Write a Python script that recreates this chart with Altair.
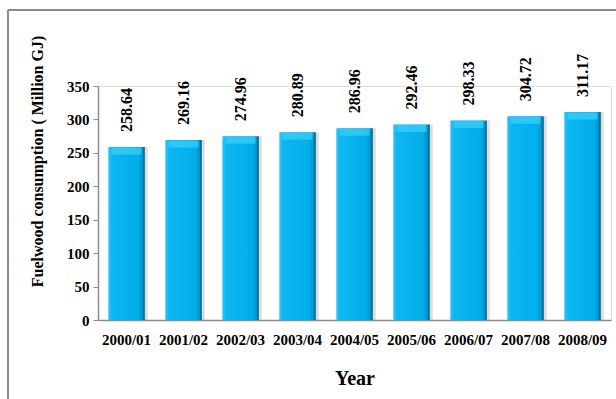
import altair as alt
import pandas as pd

# Fuelwood consumption by fiscal year (million GJ)
years = ["2000/01", "2001/02", "2002/03", "2003/04", "2004/05",
         "2005/06", "2006/07", "2007/08", "2008/09"]
consumption = [258.64, 269.16, 274.96, 280.89, 286.96, 292.46, 298.33, 304.72, 311.17]
y_ticks = [0, 50, 100, 150, 200, 250, 300, 350]

df = pd.DataFrame({"year": years, "value": consumption})
df["label"] = [f"{v:.2f}" for v in consumption]

FONT = "Liberation Serif"
GREY = "#8c8c8c"

x_enc = alt.X(
    "year:N",
    sort=years,
    scale=alt.Scale(paddingInner=0.36, paddingOuter=0.18),
    axis=alt.Axis(
        title="Year",
        labelAngle=0,
        ticks=False,
        labelPadding=12,
        labelFont=FONT, labelFontWeight="bold", labelFontSize=15, labelColor="black",
        titleFont=FONT, titleFontWeight="bold", titleFontSize=20, titleColor="black",
        titleY=64, titleBaseline="alphabetic",
        domainColor=GREY, domainWidth=1.5,
    ),
)
y_enc = alt.Y(
    "value:Q",
    scale=alt.Scale(domain=[0, 350], nice=False),
    axis=alt.Axis(
        values=y_ticks,
        grid=False,
        title="Fuelwood consumption ( Million GJ)",
        labelFont=FONT, labelFontWeight="bold", labelFontSize=15, labelColor="black",
        labelPadding=4,
        tickSize=5, tickColor=GREY, domainColor=GREY, domainWidth=1.5,
        titleFont=FONT, titleFontWeight="bold", titleFontSize=16, titleColor="black",
        titleAngle=270, titleX=-56, titleY=75, titleAlign="center",
        titleBaseline="alphabetic",
    ),
)

# outer frame: top and left edges of the figure border, kept inside the canvas
frame_top = alt.Chart(df).mark_rule(
    color="#8a8a8a", strokeWidth=2, clip=False
).encode(x=alt.value(-90), x2=alt.value(518), y=alt.value(-76))
frame_left = alt.Chart(df).mark_rule(
    color="#8a8a8a", strokeWidth=2, clip=False
).encode(x=alt.value(-90), y=alt.value(-76), y2=alt.value(313))

# soft drop shadow behind each bar
shadow = alt.Chart(df).mark_bar(
    color="#8a8a8a", opacity=0.3, xOffset=3
).encode(x=x_enc, y=y_enc)

bars = alt.Chart(df).mark_bar(
    color=alt.Gradient(
        gradient="linear", x1=0, x2=1, y1=0, y2=0,
        stops=[
            alt.GradientStop(offset=0, color="#36c8f6"),
            alt.GradientStop(offset=0.1, color="#0bb6f1"),
            alt.GradientStop(offset=0.82, color="#02aeea"),
            alt.GradientStop(offset=0.94, color="#0092c9"),
            alt.GradientStop(offset=1, color="#00506f"),
        ],
    )
).encode(x=x_enc, y=y_enc)

# bevelled top edge of each bar
tops = alt.Chart(df).mark_tick(
    color="#3fd0fb", thickness=7, size=30, yOffset=4
).encode(x=x_enc, y=y_enc)

labels = alt.Chart(df).mark_text(
    angle=270, align="left", baseline="middle", dx=15,
    font=FONT, fontWeight="bold", fontSize=16, color="black"
).encode(x=x_enc, y=y_enc, text="label:N")

chart = alt.layer(frame_top, frame_left, shadow, bars, tops, labels).properties(
    width=513, height=234,
    autosize=alt.AutoSizeParams(type="none"),
    padding={"left": 98, "top": 86, "right": 5, "bottom": 79},
).configure_view(stroke=None).configure(background="white")

chart.save("out.html", embed_options={"renderer": "svg", "actions": False})
